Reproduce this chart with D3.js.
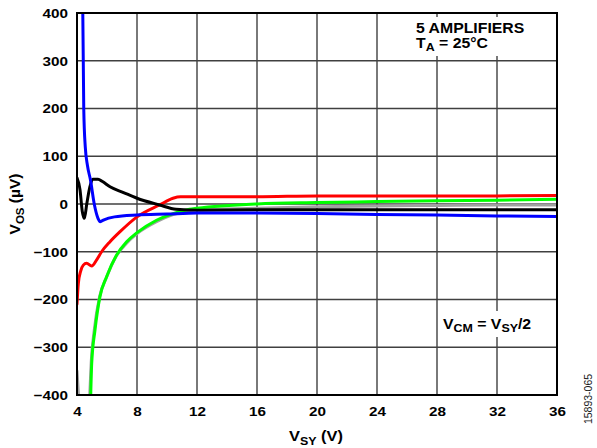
<!DOCTYPE html>
<html><head><meta charset="utf-8">
<script src="https://cdn.jsdelivr.net/npm/d3@7"></script>
<style>
body{margin:0;background:#fff;}
svg{display:block;font-family:"Liberation Sans",Arial,sans-serif;}
</style></head>
<body><svg id="c" width="597" height="448"></svg>
<script>
const xTicks = [4, 8, 12, 16, 20, 24, 28, 32, 36];
const yTicks = [-400, -300, -200, -100, 0, 100, 200, 300, 400];
const seriesNames = ["gray", "green", "red", "black", "blue"];
const grayData = [[4,-350],[4.1,-400],[4.2,-450],[4.7,-450],[4.85,-400],[4.95,-330],[5.15,-264],[5.5,-195],[5.95,-155],[6.6,-110],[7.3,-82],[8,-62],[9.3,-37],[10.4,-22],[11.5,-14],[12,-12],[16,-9],[20,-6],[24,-4],[28,-3],[32,-2],[36,-2]];
const greenData = [[4.9,-420],[4.98,-334],[5.2,-264],[5.53,-194],[5.98,-152],[6.64,-107],[7.31,-79],[8,-60],[9.3,-34],[10.4,-20],[11.5,-11],[12,-9],[16,0],[20,3],[24,5],[28,7],[32,8],[36,10]];
const redData = [[4,-210],[4.09,-166],[4.25,-140],[4.42,-128],[4.64,-124],[4.98,-130],[5.31,-117],[5.64,-100],[6.2,-79],[6.87,-58],[8,-27],[9.5,-2],[10.4,12],[10.9,15],[12,15],[16,15],[20,17],[24,17],[28,17],[32,17],[36,18]];
const blackData = [[4,55],[4.2,30],[4.35,-15],[4.49,-30],[4.65,0],[4.85,35],[5.05,52],[5.4,52],[5.7,47],[6.2,36],[7.1,24],[8,12],[9.5,-2],[10.6,-11],[12.2,-13],[16,-12],[20,-12],[24,-12],[28,-12],[32,-12],[36,-12]];
const blueData = [[4.38,420],[4.45,200],[4.55,120],[4.7,80],[4.9,50],[5.15,0],[5.4,-30],[5.55,-37],[5.8,-33],[6.5,-27],[8,-23],[10,-21],[12,-19],[16,-19],[20,-20],[24,-22],[28,-23],[32,-25],[36,-26]];
const seriesColors = ["#a0a0a0", "#00ff00", "#ff0000", "#000000", "#0000ff"];

const svg = d3.select("#c");
const L = 77, R = 557, T = 13, B = 395;
const SX = 1.13;
const x = d3.scaleLinear().domain([4, 36]).range([L, R]);
const y = d3.scaleLinear().domain([-400, 400]).range([B, T]);

svg.append("defs").append("clipPath").attr("id","clip")
  .append("rect").attr("x",L).attr("y",T).attr("width",R-L).attr("height",B-T);

// grid
const g = svg.append("g");
g.selectAll(".vx").data(xTicks.slice(1,-1)).join("line")
  .attr("x1",d=>x(d)).attr("x2",d=>x(d)).attr("y1",T).attr("y2",B)
  .attr("stroke","#404040").attr("stroke-width",1.4);
g.selectAll(".hy").data(yTicks.slice(1,-1)).join("line")
  .attr("y1",d=>y(d)).attr("y2",d=>y(d)).attr("x1",L).attr("x2",R)
  .attr("stroke","#404040").attr("stroke-width",1.4);

// white boxes behind annotations
svg.append("rect").attr("x",410).attr("y",17).attr("width",120).attr("height",39).attr("fill","#fff");
svg.append("rect").attr("x",441).attr("y",311).attr("width",100).attr("height",26).attr("fill","#fff");

const datasets = [grayData, greenData, redData, blackData, blueData];
const line = d3.line().x(d=>x(d[0])).y(d=>y(d[1])).curve(d3.curveMonotoneX);
const lg = svg.append("g").attr("clip-path","url(#clip)");
datasets.forEach((ds,i)=>{
  lg.append("path").attr("d",line(ds)).attr("fill","none")
    .attr("stroke",seriesColors[i]).attr("stroke-width",3)
    .attr("stroke-linejoin","round").attr("stroke-linecap","round");
});

// border
svg.append("rect").attr("x",L).attr("y",T).attr("width",R-L).attr("height",B-T)
  .attr("fill","none").attr("stroke","#000").attr("stroke-width",2);

// axes
const fmt = d => d < 0 ? "\u2212" + Math.abs(d) : String(d);
const xAxis = svg.append("g").attr("transform",`translate(0,${B})`)
  .call(d3.axisBottom(x).tickValues(xTicks).tickSize(0).tickPadding(11).tickFormat(fmt));
const yAxis = svg.append("g").attr("transform",`translate(${L},0)`)
  .call(d3.axisLeft(y).tickValues(yTicks).tickSize(0).tickPadding(8).tickFormat(fmt));
[xAxis,yAxis].forEach(a=>{
  a.select(".domain").remove();
  a.selectAll("text").attr("font-family","Liberation Sans, Arial, sans-serif")
    .attr("font-size",13.5).attr("font-weight","bold").attr("fill","#000")
    .attr("transform",`scale(${SX},1)`);
});

function label(xp, yp, size) {
  return svg.append("text").attr("transform",`translate(${xp},${yp}) scale(${SX},1)`)
    .attr("font-size",size).attr("font-weight","bold").attr("fill","#000");
}

// axis titles
const xt = label(316, 441, 14.5).attr("text-anchor","middle");
xt.append("tspan").text("V");
xt.append("tspan").attr("font-size",11).attr("dy",4).text("SY");
xt.append("tspan").attr("dy",-4).text(" (V)");

const yt = svg.append("text").attr("transform","translate(20,204) rotate(-90)").attr("text-anchor","middle")
  .attr("font-size",15.5).attr("font-weight","bold");
yt.append("tspan").text("V");
yt.append("tspan").attr("font-size",11.5).attr("dy",4).text("OS");
yt.append("tspan").attr("dy",-4).text(" (\u00b5V)");

// annotations
label(416, 33, 14).text("5 AMPLIFIERS");
const ta = label(416, 48, 14);
ta.append("tspan").text("T");
ta.append("tspan").attr("font-size",11).attr("dy",3).text("A");
ta.append("tspan").attr("dy",-3).text(" = 25\u00b0C");

const vc = label(443, 329, 14);
vc.append("tspan").text("V");
vc.append("tspan").attr("font-size",11).attr("dy",3).text("CM");
vc.append("tspan").attr("dy",-3).text(" = V");
vc.append("tspan").attr("font-size",11).attr("dy",3).text("SY");
vc.append("tspan").attr("dy",-3).text("/2");

svg.append("text").attr("transform","translate(592,399) rotate(-90)").attr("text-anchor","middle")
  .attr("font-size",10.5).attr("fill","#222").text("15893-065");
</script></body></html>
